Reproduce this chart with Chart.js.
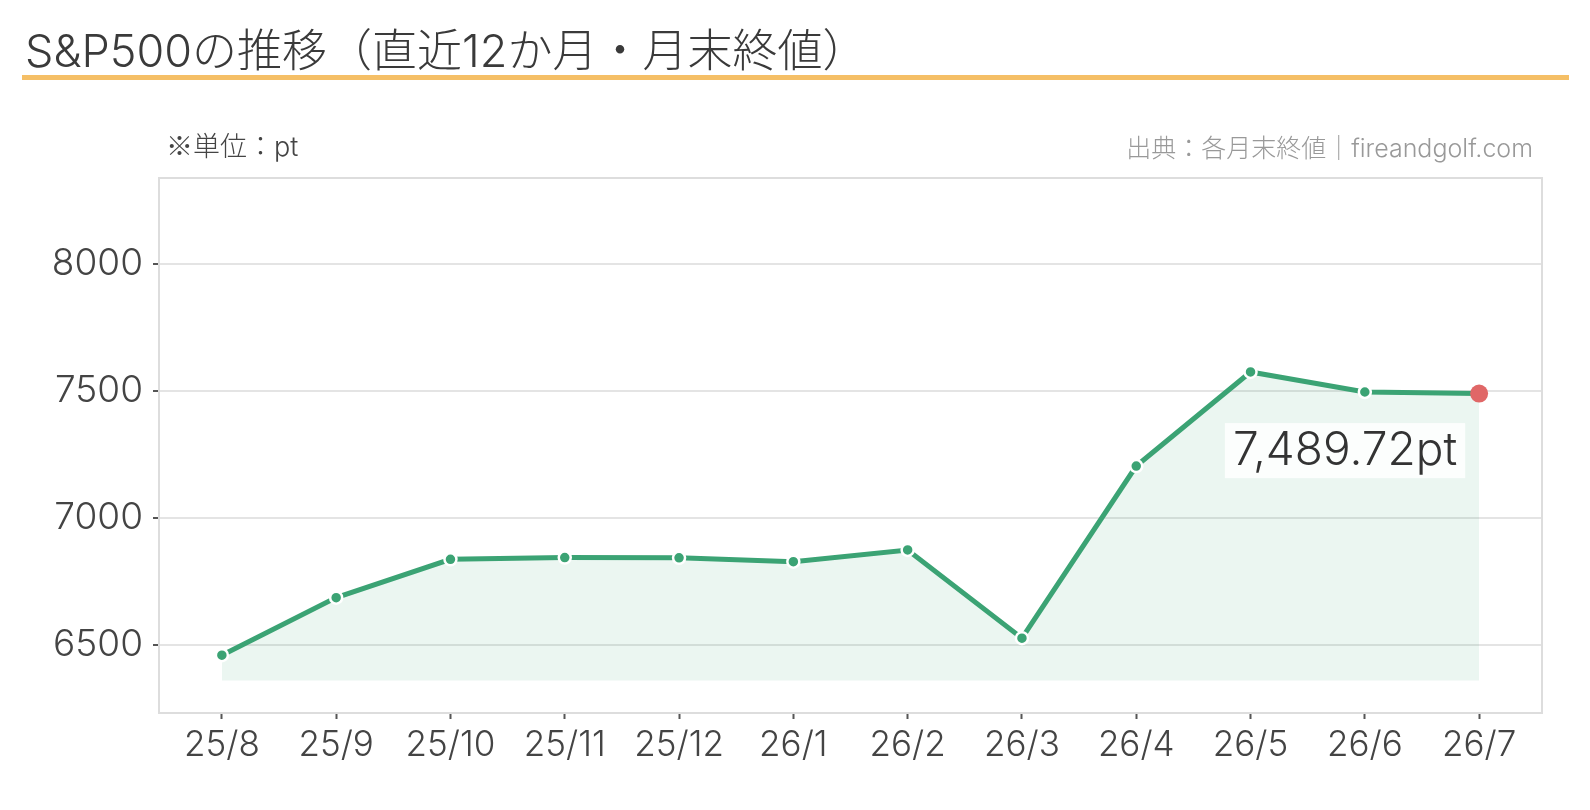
<!DOCTYPE html>
<html lang="ja">
<head>
<meta charset="utf-8">
<script src="https://cdn.jsdelivr.net/npm/chart.js@4.4.1/dist/chart.umd.min.js"></script>
<style>
  html, body { margin: 0; padding: 0; background: #fff; }
  #wrap { position: relative; width: 1590px; height: 810px; }
</style>
</head>
<body>
<div id="wrap"><canvas id="chart"></canvas></div>
<script>
// data
const labels = ['25/8', '25/9', '25/10', '25/11', '25/12', '26/1', '26/2', '26/3', '26/4', '26/5', '26/6', '26/7'];
const closes = [6458, 6685, 6836, 6843, 6842, 6827, 6873, 6525, 7204, 7575, 7496, 7489.72];
const yTicks = [6500, 7000, 7500, 8000];
const yMin = 6230;
const yMax = 8340;
const fillBase = 6358;

const FONT = 'Inter, "Noto Sans CJK JP", sans-serif';
const JFONT = '"Noto Sans CJK JP", Inter, sans-serif';
const green = '#3ba374';
const red = '#e06767';
const last = closes.length - 1;

// title, underline, unit note, source
const header = {
  id: 'header',
  beforeDraw(chart) {
    const c = chart.ctx;
    c.save();
    c.textBaseline = 'alphabetic';
    c.fillStyle = '#3a3a3a';
    c.font = '300 45px ' + FONT;
    c.textAlign = 'left';
    c.fillText('S&P500の推移（直近12か月・月末終値）', 25, 67);
    c.fillStyle = '#f5bf66';
    c.fillRect(22, 75, 1547, 5);
    c.fillStyle = '#444';
    c.font = '27px ' + JFONT;
    c.fillText('※', 166, 156);
    const w = c.measureText('※').width;
    c.font = '300 27px ' + FONT;
    c.fillText('単位：pt', 166 + w, 156);
    c.fillStyle = '#999';
    c.font = '300 25px ' + FONT;
    c.textAlign = 'right';
    c.fillText('出典：各月末終値｜fireandgolf.com', 1533, 157);
    c.restore();
  }
};

// grey frame around the plot area
const frame = {
  id: 'frame',
  beforeDatasetsDraw(chart) {
    const a = chart.chartArea, c = chart.ctx;
    c.save();
    c.strokeStyle = '#dddddd';
    c.lineWidth = 2;
    c.strokeRect(a.left, a.top, a.right - a.left, a.bottom - a.top);
    c.restore();
  }
};

// label for the latest value
const lastLabel = {
  id: 'lastLabel',
  afterDatasetsDraw(chart) {
    const pt = chart.getDatasetMeta(0).data[last];
    const c = chart.ctx;
    const txt = closes[last].toLocaleString('en-US', { minimumFractionDigits: 2 }) + 'pt';
    c.save();
    c.font = '300 46px ' + FONT;
    const w = c.measureText(txt).width + 16;
    const h = 55;
    const right = pt.x - 14;
    const cy = pt.y + 57;
    c.fillStyle = 'rgba(255,255,255,0.85)';
    c.fillRect(right - w, cy - h / 2, w, h);
    c.fillStyle = '#333';
    c.textAlign = 'center';
    c.textBaseline = 'middle';
    c.fillText(txt, right - w / 2, cy + 1);
    c.restore();
  }
};

const ctx = document.getElementById('chart').getContext('2d');
const chart = new Chart(ctx, {
  type: 'line',
  data: {
    datasets: [{
      data: closes.map((v, i) => ({ x: i, y: v })),
      borderColor: green,
      borderWidth: 5,
      backgroundColor: 'rgba(59,163,116,0.1)',
      fill: { value: fillBase },
      tension: 0,
      pointRadius: closes.map((v, i) => i === last ? 9 : 6),
      pointBackgroundColor: closes.map((v, i) => i === last ? red : green),
      pointBorderColor: closes.map((v, i) => i === last ? red : '#fff'),
      pointBorderWidth: closes.map((v, i) => i === last ? 0 : 2.5)
    }]
  },
  options: {
    responsive: true,
    maintainAspectRatio: false,
    animation: false,
    layout: { padding: { left: 0, right: 48, top: 178, bottom: 0 } },
    plugins: { legend: { display: false }, tooltip: { enabled: false } },
    scales: {
      x: {
        type: 'linear',
        min: -0.55,
        max: 11.55,
        afterBuildTicks: s => { s.ticks = labels.map((l, i) => ({ value: i })); },
        afterFit: s => { s.height = 97; },
        border: { display: false },
        grid: { drawOnChartArea: false, drawTicks: true, tickLength: 6, tickColor: '#555', tickWidth: 2 },
        ticks: {
          autoSkip: false,
          maxRotation: 0,
          padding: 5,
          color: '#444',
          font: { family: FONT, size: 35, weight: '300' },
          callback: v => labels[v]
        }
      },
      y: {
        min: yMin,
        max: yMax,
        afterBuildTicks: s => { s.ticks = yTicks.map(v => ({ value: v })); },
        afterFit: s => { s.width = 159; },
        border: { display: false },
        grid: { color: '#e4e4e4', lineWidth: 2, tickLength: 6, tickColor: '#555', tickWidth: 2 },
        ticks: {
          padding: 10,
          color: '#444',
          font: { family: FONT, size: 37, weight: '300' },
          callback: v => String(v)
        }
      }
    }
  },
  plugins: [header, frame, lastLabel]
});
</script>
</body>
</html>
